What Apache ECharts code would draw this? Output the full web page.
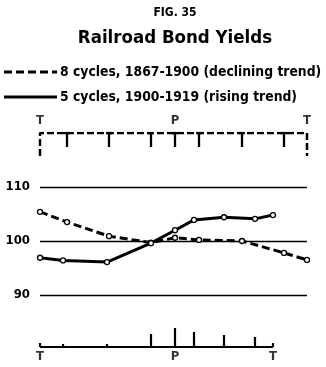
<!DOCTYPE html>
<html><head><meta charset="utf-8">
<script src="https://cdn.jsdelivr.net/npm/echarts@6/dist/echarts.min.js"></script>
<style>html,body{margin:0;padding:0;background:#fff}#c{width:326px;height:367px}</style>
</head><body><div id="c"></div>
<script>
// Stage positions (common time scale, trough = 0) and average yields per stage
const stagesDeclining = [0, 27, 69, 111, 135, 159, 202, 244, 267];
const stagesRising = [0, 23, 67, 111, 135, 154, 184, 215, 233];
const yieldsDeclining = [105.4, 103.5, 100.9, 99.7, 100.6, 100.2, 100.0, 97.8, 96.5];
const yieldsRising = [96.9, 96.4, 96.1, 99.6, 102.0, 103.9, 104.4, 104.1, 104.8];
const yTicks = [90, 100, 110];
const turnIndex = [0, 4, 8];
const turnLabels = ['T', 'P', 'T'];
const risingTickHeights = [4, 3, 3, 13, 19, 15, 12, 10, 4];
const legendLabels = ['8 cycles, 1867-1900 (declining trend)', '5 cycles, 1900-1919 (rising trend)'];

const FONT = '"DejaVu Sans Condensed", "DejaVu Sans", sans-serif';
const X_MAX = 267;

const chart = echarts.init(document.getElementById('c'), null, { renderer: 'canvas' });

const hiddenX = (gi) => ({ type: 'value', gridIndex: gi, min: 0, max: X_MAX, show: false });
const series = [];

// main panel
series.push({
  type: 'line', xAxisIndex: 0, yAxisIndex: 0,
  data: stagesDeclining.map((x, i) => [x, yieldsDeclining[i]]),
  lineStyle: { color: '#000', width: 3, type: [8, 4] },
  symbol: 'circle', symbolSize: 5,
  itemStyle: { color: '#fff', borderColor: '#000', borderWidth: 1.3 },
  z: 3
});
series.push({
  type: 'line', xAxisIndex: 0, yAxisIndex: 0,
  data: stagesRising.map((x, i) => [x, yieldsRising[i]]),
  lineStyle: { color: '#000', width: 3 },
  symbol: 'circle', symbolSize: 5,
  itemStyle: { color: '#fff', borderColor: '#000', borderWidth: 1.3 },
  z: 4
});

// top timeline (declining trend cycles), y grows downward
const topEnd = stagesDeclining[stagesDeclining.length - 1];
series.push({
  type: 'line', xAxisIndex: 1, yAxisIndex: 1, symbol: 'none',
  data: [[0, 23], [0, 0], [topEnd, 0], [topEnd, 23]],
  lineStyle: { color: '#000', width: 2.5, type: [7, 3] }
});
stagesDeclining.slice(1, -1).forEach((x) => {
  series.push({
    type: 'line', xAxisIndex: 1, yAxisIndex: 1, symbol: 'none',
    data: [[x - 3, 0], [x + 3, 0], [x, 0], [x, 14]],
    lineStyle: { color: '#000', width: 2.3 }
  });
});
series.push({
  type: 'scatter', xAxisIndex: 1, yAxisIndex: 1, symbolSize: 0,
  data: turnIndex.map((k, j) => ({ value: [stagesDeclining[k], 0], name: turnLabels[j] })),
  label: { show: true, position: 'top', distance: 6, formatter: '{b}', color: '#000', fontFamily: FONT, fontWeight: 'bold', fontSize: 13 }
});

// bottom timeline (rising trend cycles)
const botEnd = stagesRising[stagesRising.length - 1];
series.push({
  type: 'line', xAxisIndex: 2, yAxisIndex: 2, symbol: 'none',
  data: [[0, 0], [botEnd, 0]],
  lineStyle: { color: '#000', width: 2 }
});
stagesRising.forEach((x, i) => {
  series.push({
    type: 'line', xAxisIndex: 2, yAxisIndex: 2, symbol: 'none',
    data: [[x, 0], [x, risingTickHeights[i]]],
    lineStyle: { color: '#000', width: 2.2 }
  });
});
series.push({
  type: 'scatter', xAxisIndex: 2, yAxisIndex: 2, symbolSize: 0,
  data: turnIndex.map((k, j) => ({ value: [stagesRising[k], 0], name: turnLabels[j] })),
  label: { show: true, position: 'bottom', distance: 3, formatter: '{b}', color: '#000', fontFamily: FONT, fontWeight: 'bold', fontSize: 13 }
});

chart.setOption({
  animation: false,
  backgroundColor: '#fff',
  grid: [
    { left: 40, width: X_MAX, top: 187, height: 108 },
    { left: 40, width: X_MAX, top: 133, height: 24 },
    { left: 40, width: X_MAX, top: 327, height: 20 }
  ],
  xAxis: [hiddenX(0), hiddenX(1), hiddenX(2)],
  yAxis: [
    {
      type: 'value', gridIndex: 0, min: yTicks[0], max: yTicks[yTicks.length - 1], interval: 10,
      axisLine: { show: false }, axisTick: { show: false },
      splitLine: { lineStyle: { color: '#000', width: 1.4 } },
      axisLabel: { color: '#000', fontFamily: FONT, fontWeight: 'bold', fontSize: 13, margin: 10 }
    },
    { type: 'value', gridIndex: 1, min: 0, max: 24, inverse: true, show: false },
    { type: 'value', gridIndex: 2, min: 0, max: 20, show: false }
  ],
  graphic: [
    { type: 'text', x: 175, y: 13, style: { text: 'FIG. 35', font: 'bold 12px ' + FONT, fill: '#000', textAlign: 'center', textVerticalAlign: 'middle' } },
    { type: 'text', x: 175, y: 38, style: { text: 'Railroad Bond Yields', font: 'bold 18.5px ' + FONT, fill: '#000', textAlign: 'center', textVerticalAlign: 'middle' } },
    { type: 'line', shape: { x1: 4, y1: 72, x2: 57, y2: 72 }, style: { stroke: '#000', lineWidth: 3, lineDash: [8, 4] } },
    { type: 'text', x: 60, y: 72, style: { text: legendLabels[0], font: 'bold 13.8px ' + FONT, fill: '#000', textAlign: 'left', textVerticalAlign: 'middle' } },
    { type: 'line', shape: { x1: 4, y1: 97, x2: 57, y2: 97 }, style: { stroke: '#000', lineWidth: 3 } },
    { type: 'text', x: 60, y: 97, style: { text: legendLabels[1], font: 'bold 13.8px ' + FONT, fill: '#000', textAlign: 'left', textVerticalAlign: 'middle' } }
  ],
  series
});
</script>
</body></html>
